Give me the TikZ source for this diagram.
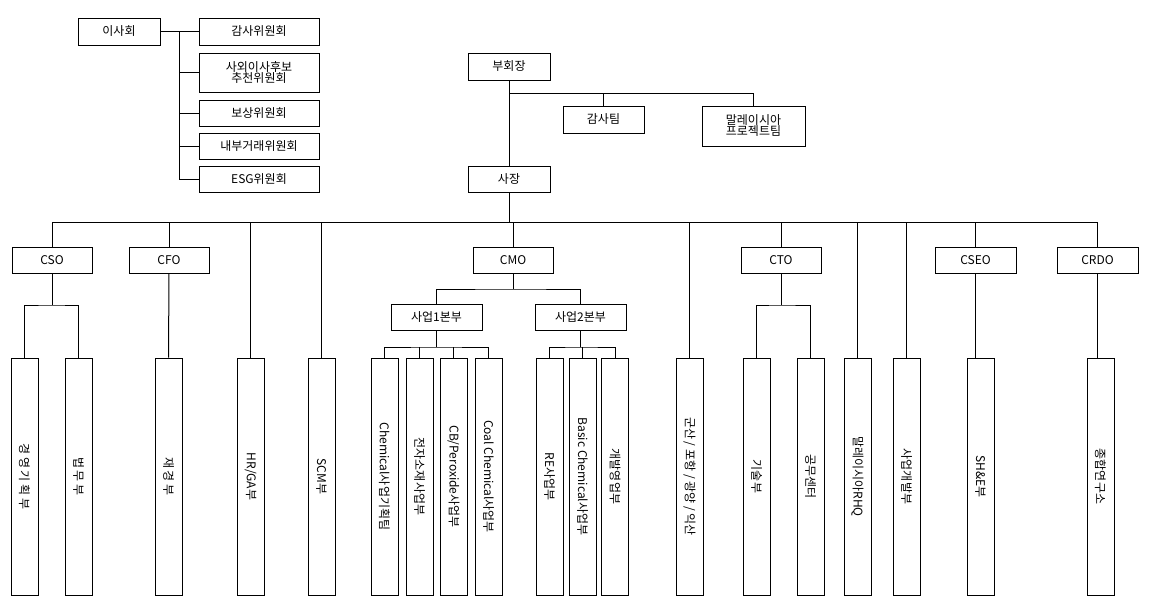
\documentclass[tikz,border=0pt]{standalone}
\usepackage{fontspec}
\setmainfont{Noto Sans CJK KR}
\begin{document}
\begin{tikzpicture}[x=1pt,y=-1pt,line width=1pt,
  box/.style={draw,inner sep=0pt,align=center,font=\fontsize{12}{14}\selectfont},
  vbox/.style={draw,inner sep=0pt,minimum width=27pt,minimum height=237pt,font=\fontsize{12}{14}\selectfont},
  vt/.style={rotate=-90,font=\fontsize{12}{14}\selectfont}]
\useasboundingbox (0,0) rectangle (1160,605);
% board
\node[box,minimum width=82pt,minimum height=27pt] (board) at (119,31.5) {이사회};
\node[box,minimum width=120pt,minimum height=27pt] (c1) at (259,31.5) {감사위원회};
\node[box,minimum width=120pt,minimum height=39pt,text width=118pt] (c2) at (259,72.5) {사외이사후보\\[-3pt]추천위원회};
\node[box,minimum width=120pt,minimum height=26pt] (c3) at (259,113) {보상위원회};
\node[box,minimum width=120pt,minimum height=26pt] (c4) at (259,146) {내부거래위원회};
\node[box,minimum width=120pt,minimum height=26pt] (c5) at (259,179) {ESG위원회};
\coordinate (bb) at (179,31.5);
\draw (board.east) -- (c1.west);
\draw (bb) |- (c2.west);
\draw (bb) |- (c3.west);
\draw (bb) |- (c4.west);
\draw (bb) |- (c5.west);
% vice chairman
\node[box,minimum width=82pt,minimum height=27pt] (vice) at (509,66.5) {부회장};
\node[box,minimum width=81pt,minimum height=27pt] (audit) at (603.5,119.5) {감사팀};
\node[box,minimum width=103pt,minimum height=40pt,text width=100pt] (mal) at (753.5,126) {말레이시아\\[-3pt]프로젝트팀};
\node[box,minimum width=82pt,minimum height=26pt] (pres) at (509,179) {사장};
\coordinate (vb) at (509,93);
\draw (vice.south) -- (pres.north);
\draw (vb) -| (audit.north);
\draw (vb) -| (mal.north);
% level 2
\node[box,minimum width=80pt,minimum height=26pt] (cso) at (52,260) {CSO};
\node[box,minimum width=80pt,minimum height=26pt] (cfo) at (169,260) {CFO};
\node[box,minimum width=80pt,minimum height=26pt] (cmo) at (513,260) {CMO};
\node[box,minimum width=80pt,minimum height=26pt] (cto) at (781,260) {CTO};
\node[box,minimum width=81pt,minimum height=26pt] (cseo) at (975.5,260) {CSEO};
\node[box,minimum width=81pt,minimum height=26pt] (crdo) at (1097.5,260) {CRDO};
\node[box,minimum width=91pt,minimum height=26pt] (b1) at (436.5,317) {사업1본부};
\node[box,minimum width=91pt,minimum height=26pt] (b2) at (580.5,317) {사업2본부};
% bottom boxes
\newcommand{\vb}[3]{\node[vbox] (#1) at (#2,476.5) {}; \node[vt] at (#1) {#3};}
\vb{d1}{24.5}{경 영 기 획 부}
\vb{d2}{78.5}{법 무 부}
\vb{d3}{168.5}{재 경 부}
\vb{d4}{250.5}{HR/GA부}
\vb{d5}{321.5}{SCM부}
\vb{d6}{384.5}{Chemical사업기획팀}
\vb{d7}{419.5}{전자소재사업부}
\vb{d8}{453.5}{CB/Peroxide사업부}
\vb{d9}{488.5}{Coal Chemical사업부}
\vb{d10}{549.5}{RE사업부}
\vb{d11}{582.5}{Basic Chemical사업부}
\vb{d12}{615}{개발영업부}
\vb{d13}{689.5}{군산 / 포항 / 광양 / 익산}
\vb{d14}{756.5}{기술부}
\vb{d15}{810.5}{공무센터}
\vb{d16}{857.5}{말레이시아RHQ}
\vb{d17}{906.5}{사업개발부}
\vb{d18}{980.5}{SH\&E부}
\vb{d19}{1100.5}{종합연구소}
% main bus
\coordinate (busL) at (52,222);
\coordinate (busR) at (1097.5,222);
\draw (pres.south) -- (pres.south |- busL);
\draw (busL) -- (busR);
\foreach \n in {cso,cfo,cmo,cto,cseo,crdo,d4,d5,d13,d16,d17}
  \draw (\n.north) -- (\n.north |- busL);
% CSO
\coordinate (csob) at (52,305);
\draw (cso.south) -- (csob);
\draw (d1.north) |- (csob) -| (d2.north);
\draw (cfo.south) -- (d3.north);
% CMO
\coordinate (cmob) at (513,289);
\draw (cmo.south) -- (cmob);
\draw (b1.north) |- (cmob) -| (b2.north);
\coordinate (b1b) at (436.5,347);
\draw (b1.south) -- (b1b);
\draw (d6.north) |- (b1b) -| (d9.north);
\foreach \n in {d7,d8} \draw (\n.north) -- (\n.north |- b1b);
\coordinate (b2b) at (580.5,347);
\draw (b2.south) -- (b2b);
\draw (d10.north) |- (b2b) -| (d12.north);
\draw (d11.north) -- (d11.north |- b2b);
% CTO
\coordinate (ctob) at (781,305);
\draw (cto.south) -- (ctob);
\draw (d14.north) |- (ctob) -| (d15.north);
\draw (cseo.south) -- (cseo.south |- d18.north);
\draw (crdo.south) -- (crdo.south |- d19.north);
\end{tikzpicture}
\end{document}
